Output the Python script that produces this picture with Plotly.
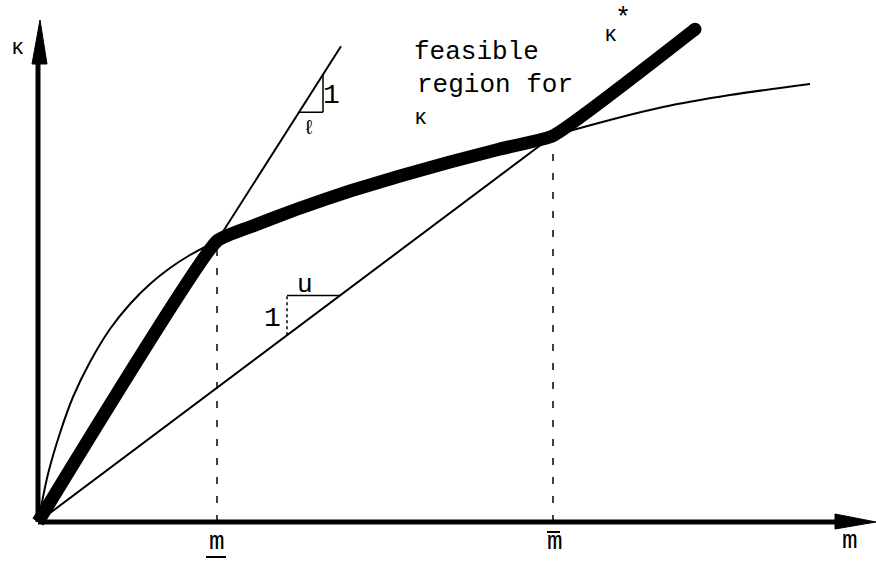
import plotly.graph_objects as go

# slopes of the two rays through the origin (kappa per unit m)
slope_l = 1.57
slope_u = 0.75

# break points on the m axis
m_low = 179
m_high = 515
m_end = 657      # where the thick kappa* line stops
m_ray = 303      # where the thin steep ray stops

# concave curve
curve_m = [0, 3, 10, 22, 35, 52, 72, 92, 112, 132, 152, 165, 179, 212, 262, 312, 362, 412, 462, 515, 535, 625, 692, 772]
curve_k = [0, 15, 48, 89, 125, 160, 193, 218, 238, 254, 267, 274, 281, 295, 314, 331, 346, 360, 373, 386, 392, 415, 427, 438]

# kappa*: steep ray up to m_low, curve up to m_high, shallow ray after
inner = [(m, k) for m, k in zip(curve_m, curve_k) if m_low < m < m_high]
kstar_m = [0, m_low] + [p[0] for p in inner] + [m_high, m_end]
kstar_k = [0, slope_l * m_low] + [p[1] for p in inner] + [slope_u * m_high, slope_u * m_end]

x_max = 838
y_max = 522
ink = "black"
mono = "Liberation Mono, Courier New, monospace"

fig = go.Figure()

# thin steep ray
fig.add_trace(go.Scatter(x=[0, m_ray], y=[0, slope_l * m_ray], mode="lines",
                         line=dict(color=ink, width=2), hoverinfo="skip"))
# thin shallow ray
fig.add_trace(go.Scatter(x=[0, m_high], y=[0, slope_u * m_high], mode="lines",
                         line=dict(color=ink, width=2), hoverinfo="skip"))
# curve
fig.add_trace(go.Scatter(x=curve_m, y=curve_k, mode="lines",
                         line=dict(color=ink, width=2, shape="spline", smoothing=0.8),
                         hoverinfo="skip"))
# thick kappa*
fig.add_trace(go.Scatter(x=kstar_m, y=kstar_k, mode="lines",
                         line=dict(color=ink, width=13, shape="spline", smoothing=0.4),
                         hoverinfo="skip"))
fig.add_trace(go.Scatter(x=[m_end], y=[slope_u * m_end], mode="markers",
                         marker=dict(color=ink, size=13), hoverinfo="skip"))

# dashed drop lines
fig.add_shape(type="line", x0=m_low, x1=m_low, y0=0, y1=slope_l * m_low,
              line=dict(color=ink, width=1.5, dash="7px,12px"))
fig.add_shape(type="line", x0=m_high, x1=m_high, y0=0, y1=slope_u * m_high,
              line=dict(color=ink, width=1.5, dash="7px,12px"))

# axes with arrowheads
fig.add_shape(type="line", x0=0, x1=0, y0=0, y1=470, line=dict(color=ink, width=5))
fig.add_shape(type="path", path="M 2 502 L -6 458 L 9 458 Z", fillcolor=ink, line=dict(color=ink, width=1))
fig.add_shape(type="line", x0=0, x1=800, y0=0, y1=0, line=dict(color=ink, width=5))
fig.add_shape(type="path", path=f"M {x_max} 0 L 797 8 L 797 -7 Z", fillcolor=ink, line=dict(color=ink, width=1))

# slope triangle on the steep ray
t_m = 261
fig.add_shape(type="line", x0=t_m, x1=t_m + 24, y0=slope_l * t_m, y1=slope_l * t_m, line=dict(color=ink, width=1.5))
fig.add_shape(type="line", x0=t_m + 24, x1=t_m + 24, y0=slope_l * t_m, y1=slope_l * (t_m + 24), line=dict(color=ink, width=1.5))
# slope triangle on the shallow ray
s_m = 249
fig.add_shape(type="line", x0=s_m, x1=s_m, y0=slope_u * s_m, y1=slope_u * (s_m + 53), line=dict(color=ink, width=1.5, dash="dot"))
fig.add_shape(type="line", x0=s_m, x1=s_m + 53, y0=slope_u * (s_m + 53), y1=slope_u * (s_m + 53), line=dict(color=ink, width=1.5))

# bars under / over the m tick letters
fig.add_shape(type="line", x0=m_low - 11, x1=m_low + 9, y0=-35, y1=-35, line=dict(color=ink, width=2))
fig.add_shape(type="line", x0=m_high - 6, x1=m_high + 7, y0=-10, y1=-10, line=dict(color=ink, width=2))

labels = [
    (-21, 474, "κ", 22),
    (438, 470, "feasible", 26),
    (457, 437, "region for", 26),
    (382, 404, "κ", 22),
    (572, 487, "κ", 22),
    (585, 503, "*", 27),
    (293, 427, "1", 28),
    (271, 394, "ℓ", 20),
    (267, 237, "u", 26),
    (234, 204, "1", 28),
    (179, -20, "m", 26),
    (517, -20, "m", 26),
    (812, -19, "m", 26),
]
for x, y, t, s in labels:
    fig.add_annotation(x=x, y=y, text=t, showarrow=False,
                       font=dict(family=mono, size=s, color=ink))

fig.update_layout(
    width=876, height=564,
    margin=dict(l=0, r=0, t=0, b=0),
    paper_bgcolor="white", plot_bgcolor="white",
    showlegend=False,
    xaxis=dict(range=[-38, x_max], visible=False),
    yaxis=dict(range=[-42, y_max], visible=False),
)

fig.write_html("out.html", config={"displayModeBar": False},
               post_script="document.body.style.margin='0';")
